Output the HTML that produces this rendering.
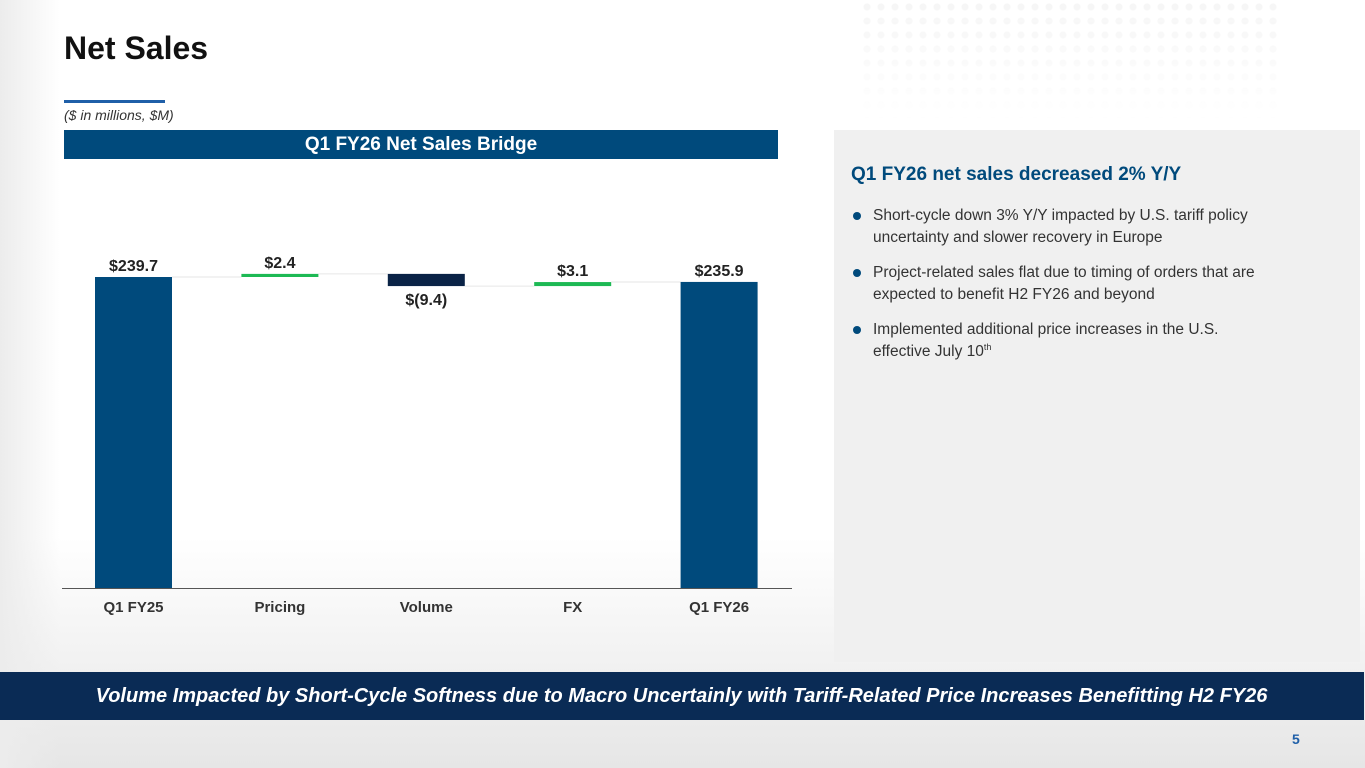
<!DOCTYPE html>
<html><head><meta charset="utf-8"><style>
body{margin:0;width:1365px;height:768px;overflow:hidden;font-family:"Liberation Sans",sans-serif;background:linear-gradient(180deg,#fff 0%,#fff 70%,#e6e6e6 100%);position:relative}
.abs{position:absolute}
</style></head><body>
<div class="abs" style="left:0;top:0;width:60px;height:768px;background:linear-gradient(90deg,#ececec,rgba(255,255,255,0))"></div>
<div class="abs" style="left:860px;top:0;width:420px;height:120px;background:radial-gradient(circle,#e4e4e4 3px,transparent 4px) 0 0/14px 14px;opacity:.35;-webkit-mask-image:linear-gradient(180deg,#000,transparent);"></div>
<div class="abs" style="left:64px;top:30px;font-size:32px;font-weight:bold;color:#111">Net Sales</div>
<div class="abs" style="left:64px;top:100px;width:101px;height:3px;background:#1f5fa8"></div>
<div class="abs" style="left:64px;top:107px;font-size:14px;font-style:italic;color:#333">($ in millions, $M)</div>
<div class="abs" style="left:64px;top:130px;width:714px;height:29px;background:#004a7c;color:#fff;font-size:19px;font-weight:bold;text-align:center;line-height:29px">Q1 FY26 Net Sales Bridge</div>
<svg class="abs" style="left:0;top:0" width="800" height="640" id="chart"></svg>
<div class="abs" style="left:834px;top:130px;width:526px;height:532px;background:#f0f0f0"></div>
<div class="abs" style="left:851px;top:164px;font-size:19px;font-weight:bold;color:#004a7c">Q1 FY26 net sales decreased 2% Y/Y</div>
<div class="abs" style="left:853px;top:205px;width:440px;font-size:15.5px;color:#333;line-height:22px">
<div style="position:relative;padding-left:20px;margin-bottom:13px"><span style="position:absolute;left:0;top:7px;width:8px;height:8px;border-radius:50%;background:#004a7c"></span>Short-cycle down 3% Y/Y impacted by U.S. tariff policy uncertainty and slower recovery in Europe</div>
<div style="position:relative;padding-left:20px;margin-bottom:13px"><span style="position:absolute;left:0;top:7px;width:8px;height:8px;border-radius:50%;background:#004a7c"></span>Project-related sales flat due to timing of orders that are expected to benefit H2 FY26 and beyond</div>
<div style="position:relative;padding-left:20px"><span style="position:absolute;left:0;top:7px;width:8px;height:8px;border-radius:50%;background:#004a7c"></span>Implemented additional price increases in the U.S.<br>effective July 10<sup style="font-size:9px;line-height:0">th</sup></div>
</div>
<div class="abs" style="left:0;top:672px;width:1365px;height:48px;background:#0a2b55;color:#fff;font-size:20px;font-weight:bold;font-style:italic;text-align:center;line-height:48px;margin-left:-1px">Volume Impacted by Short-Cycle Softness due to Macro Uncertainly with Tariff-Related Price Increases Benefitting H2 FY26</div>
<div class="abs" style="left:1292px;top:731px;font-size:14px;font-weight:bold;color:#1f5fa8">5</div>
<script>
const categories=["Q1 FY25","Pricing","Volume","FX","Q1 FY26"];
const values=[239.7,2.4,-9.4,3.1,235.9];
const kinds=["total","delta","delta","delta","total"];
const labels=["$239.7","$2.4","$(9.4)","$3.1","$235.9"];
const svg=document.getElementById('chart');const NS='http://www.w3.org/2000/svg';
const base=588,scale=311/239.7,x0=95,step=146.4,bw=77;
const y=v=>base-v*scale;
function el(t,a){const e=document.createElementNS(NS,t);for(const k in a)e.setAttribute(k,a[k]);svg.appendChild(e);return e;}
let run=0;
categories.forEach((c,i)=>{
 const v=values[i];let lo,hi,col;const prev=run;
 if(kinds[i]==="total"){run=v;lo=0;hi=v;col="#004a7c";}
 else{lo=Math.min(run,run+v);hi=Math.max(run,run+v);run+=v;col=v>=0?"#1db954":"#0a2346";}
 const x=x0+i*step;
 if(i>0){const cn=el('line',{x1:x-step+bw,x2:x,y1:y(prev),y2:y(prev),stroke:"#e6e6e6","stroke-width":1});}
 const r=el('rect',{x:x,y:y(hi),width:bw,height:Math.max(3,y(lo)-y(hi)),fill:col});
 
 
 const ly=v<0&&kinds[i]==="delta"?y(lo)+19:y(hi)-6;
 const t=el('text',{x:x+bw/2,y:ly,"text-anchor":"middle","font-size":16,"font-weight":"bold",fill:"#222","font-family":"Liberation Sans"});t.textContent=labels[i];
 
 
 const ct=el('text',{x:x+bw/2,y:612,"text-anchor":"middle","font-size":15,"font-weight":"bold",fill:"#333","font-family":"Liberation Sans"});ct.textContent=c;
 
 
});
const ax=el('line',{x1:62,x2:792,y1:base+0.5,y2:base+0.5,stroke:"#555","stroke-width":1});


</script>
</body></html>
